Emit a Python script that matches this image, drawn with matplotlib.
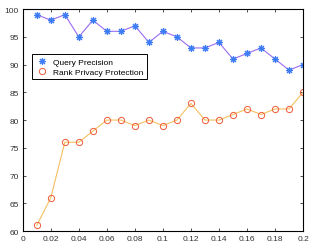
import matplotlib
matplotlib.use("Agg")
import matplotlib.pyplot as plt
import numpy as np

x_vals = [0.01, 0.02, 0.03, 0.04, 0.05, 0.06, 0.07, 0.08, 0.09, 0.10,
          0.11, 0.12, 0.13, 0.14, 0.15, 0.16, 0.17, 0.18, 0.19, 0.20]
query_precision = [99, 98, 99, 95, 98, 96, 96, 97, 94, 96,
                   95, 93, 93, 94, 91, 92, 93, 91, 89, 90]
rank_privacy = [61, 66, 76, 76, 78, 80, 80, 79, 80, 79,
                80, 83, 80, 80, 81, 82, 81, 82, 82, 85]
x_ticks = [0, 0.02, 0.04, 0.06, 0.08, 0.1, 0.12, 0.14, 0.16, 0.18, 0.2]
x_labels = ["0", "0.02", "0.04", "0.06", "0.08", "0.1", "0.12", "0.14", "0.16", "0.18", "0.2"]
y_ticks = [60, 65, 70, 75, 80, 85, 90, 95, 100]

plt.rcParams['font.family'] = ['Liberation Sans', 'DejaVu Sans']

fig = plt.figure(figsize=(3.16, 2.53), dpi=100)
ax = fig.add_axes([0.072, 0.083, 0.887, 0.877])

# lines first, markers on top
ax.plot(x_vals, query_precision, color='#9a6cf0', linewidth=0.8)
ax.plot(x_vals, query_precision, linestyle='none', marker=(8, 2, 0), color='#3d7cf5',
        markersize=5, markeredgewidth=0.8, label='Query Precision')
ax.plot(x_vals, rank_privacy, color='#f5c060', linewidth=0.8)
ax.plot(x_vals, rank_privacy, linestyle='none', marker='o', markerfacecolor='none',
        markeredgecolor='#f05a3a', markeredgewidth=0.7, markersize=4.5,
        label='Rank Privacy Protection')

ax.set_xlim(0, 0.2)
ax.set_ylim(60, 100)
ax.set_xticks(x_ticks)
ax.set_xticklabels(x_labels)
ax.set_yticks(y_ticks)
ax.tick_params(direction='in', top=True, right=True, labelsize=6, length=2.5,
               width=0.6, pad=3, colors='#333333')
for sp in ax.spines.values():
    sp.set_linewidth(0.8)

leg = ax.legend(loc='upper left', bbox_to_anchor=(0.018, 0.815), fontsize=6,
                fancybox=False, edgecolor='black', framealpha=1,
                borderpad=0.4, handletextpad=0.6, labelspacing=0.3, handlelength=1.5)
leg.get_frame().set_linewidth(0.7)

plt.savefig("out.png", dpi=100)
